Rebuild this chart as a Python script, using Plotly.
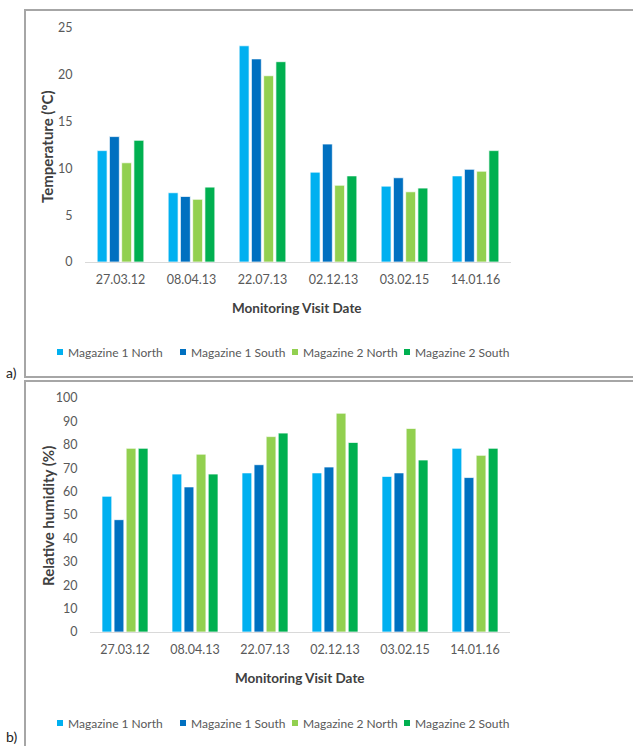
import plotly.graph_objects as go

W, H = 633, 746

dates = ["27.03.12", "08.04.13", "22.07.13", "02.12.13", "03.02.15", "14.01.16"]
series_names = ["Magazine 1 North", "Magazine 1 South", "Magazine 2 North", "Magazine 2 South"]
colors = ["#00B0F0", "#0070C0", "#92D050", "#00B050"]

temp_m1n = [11.9, 7.4, 23.1, 9.6, 8.1, 9.2]
temp_m1s = [13.4, 7.0, 21.7, 12.6, 9.0, 9.9]
temp_m2n = [10.6, 6.7, 19.9, 8.2, 7.5, 9.7]
temp_m2s = [13.0, 8.0, 21.4, 9.2, 7.9, 11.9]

rh_m1n = [58, 67.5, 68, 68, 66.5, 78.5]
rh_m1s = [48, 62, 71.5, 70.5, 68, 66]
rh_m2n = [78.5, 76, 83.5, 93.5, 87, 75.5]
rh_m2s = [78.5, 67.5, 85, 81, 73.5, 78.5]

temp_ticks = [0, 5, 10, 15, 20, 25]
rh_ticks = [0, 10, 20, 30, 40, 50, 60, 70, 80, 90, 100]

def px(x):
    return x / W

def py(y):
    return 1 - y / H

FONT = "Lato"
TICK_COL = "#595959"
TITLE_COL = "#404040"

fig = go.Figure()

temps = [temp_m1n, temp_m1s, temp_m2n, temp_m2s]
rhs = [rh_m1n, rh_m1s, rh_m2n, rh_m2s]

for name, col, vals in zip(series_names, colors, temps):
    fig.add_trace(go.Bar(x=dates, y=vals, name=name, showlegend=False,
                         marker=dict(color=col, line=dict(color="rgba(255,255,255,0.7)", width=1)),
                         xaxis="x", yaxis="y"))
for name, col, vals in zip(series_names, colors, rhs):
    fig.add_trace(go.Bar(x=dates, y=vals, name=name, showlegend=False,
                         marker=dict(color=col, line=dict(color="rgba(255,255,255,0.7)", width=1)),
                         xaxis="x2", yaxis="y2"))

axis_common = dict(showgrid=False, zeroline=False, automargin=False,
                   tickfont=dict(family=FONT, size=12.5, color=TICK_COL), fixedrange=True)

fig.update_layout(
    width=W, height=H,
    margin=dict(l=0, r=0, t=0, b=0, pad=0),
    paper_bgcolor="white", plot_bgcolor="white",
    barmode="group", bargap=0.31, bargroupgap=0.19,
    font=dict(family=FONT, color=TICK_COL),
    showlegend=False,
    xaxis=dict(domain=[px(85), px(511)], anchor="y", showline=True, linecolor="#D9D9D9", linewidth=1,
               ticks="outside", ticklen=6, tickcolor="rgba(0,0,0,0)", **axis_common),
    yaxis=dict(domain=[py(262), py(28)], anchor="x", range=[0, 25], tickvals=temp_ticks, showline=False,
               ticks="outside", ticklen=9, tickcolor="rgba(0,0,0,0)", **axis_common),
    xaxis2=dict(domain=[px(90), px(510)], anchor="y2", showline=True, linecolor="#D9D9D9", linewidth=1,
                ticks="outside", ticklen=6, tickcolor="rgba(0,0,0,0)", **axis_common),
    yaxis2=dict(domain=[py(632), py(398)], anchor="x2", range=[0, 100], tickvals=rh_ticks, showline=False,
                ticks="outside", ticklen=9, tickcolor="rgba(0,0,0,0)", **axis_common),
)

shapes = []
# frames
shapes.append(dict(type="rect", xref="paper", yref="paper", x0=px(25), x1=px(645), y0=py(10), y1=py(377),
                   line=dict(color="#A6A6A6", width=2), fillcolor="rgba(0,0,0,0)", layer="below"))
shapes.append(dict(type="rect", xref="paper", yref="paper", x0=px(25), x1=px(645), y0=py(381), y1=py(760),
                   line=dict(color="#A6A6A6", width=2), fillcolor="rgba(0,0,0,0)", layer="below"))

ann = []
ann.append(dict(text="<b>Temperature (ºC)</b>", x=px(47), y=py(146), textangle=-90,
                font=dict(family=FONT, size=15, color=TITLE_COL)))
ann.append(dict(text="<b>Relative humidity (%)</b>", x=px(48), y=py(516), textangle=-90,
                font=dict(family=FONT, size=15, color=TITLE_COL)))
ann.append(dict(text="<b>Monitoring Visit Date</b>", x=px(297), y=py(308),
                font=dict(family=FONT, size=13.5, color=TITLE_COL)))
ann.append(dict(text="<b>Monitoring Visit Date</b>", x=px(300), y=py(678),
                font=dict(family=FONT, size=13.5, color=TITLE_COL)))
ann.append(dict(text="a)", x=px(11), y=py(372), font=dict(family=FONT, size=14, color="#222222")))
ann.append(dict(text="b)", x=px(11), y=py(736), font=dict(family=FONT, size=14, color="#222222")))

# manual legends
legend_x = [57, 180, 292, 404]
for ly in (352, 723):
    for name, col, lx in zip(series_names, colors, legend_x):
        shapes.append(dict(type="rect", xref="paper", yref="paper", x0=px(lx), x1=px(lx + 6),
                           y0=py(ly + 3), y1=py(ly - 3), line=dict(width=0), fillcolor=col))
        ann.append(dict(text=name, x=px(lx + 9), y=py(ly), xanchor="left",
                        font=dict(family=FONT, size=12, color=TICK_COL)))

for a in ann:
    a.setdefault("xanchor", "center")
    a.update(xref="paper", yref="paper", showarrow=False, yanchor="middle")
fig.update_layout(annotations=ann, shapes=shapes)

fig.write_html("out.html", config={"displayModeBar": False},
               post_script="document.body.style.margin='0';document.body.style.overflow='hidden';")
